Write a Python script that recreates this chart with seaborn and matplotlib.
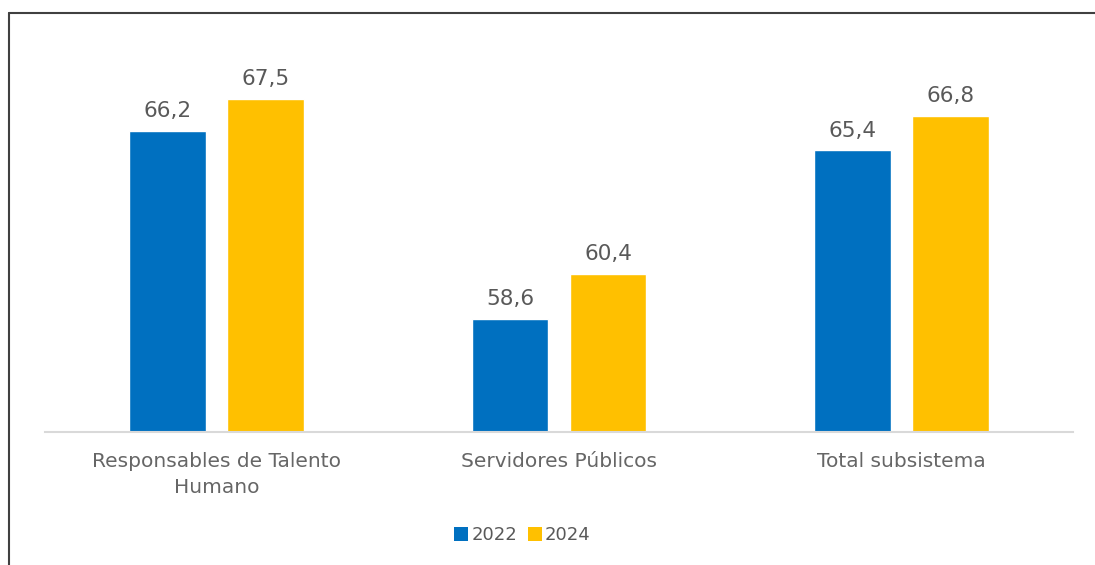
import matplotlib
matplotlib.use("Agg")
import matplotlib.pyplot as plt
from matplotlib.lines import Line2D
from matplotlib.patches import Patch
import seaborn as sns
import pandas as pd

categories = ["Responsables de Talento\nHumano", "Servidores Públicos", "Total subsistema"]
years = ["2022", "2024"]
values_2022 = [66.2, 58.6, 65.4]
values_2024 = [67.5, 60.4, 66.8]
colors = ["#0070C0", "#FFC000"]

df = pd.DataFrame({
    "categoria": categories * 2,
    "anio": [years[0]] * 3 + [years[1]] * 3,
    "valor": values_2022 + values_2024,
})

sns.set_theme(style="white")
plt.rcParams["font.family"] = ["DejaVu Sans"]

fig = plt.figure(figsize=(10.95, 5.65), dpi=100)
ax = fig.add_axes([0.041, 0.235, 0.939, 0.70])

sns.barplot(data=df, x="categoria", y="valor", hue="anio", hue_order=years,
            palette=colors, width=0.572, gap=0.217, ax=ax, legend=False,
            saturation=1, errorbar=None)

ax.set_ylim(54, 70)
ax.set_xlim(-0.5, 2.5)
for c in ax.containers:
    ax.bar_label(c, labels=[f"{v:.1f}".replace(".", ",") for v in c.datavalues],
                 padding=7, fontsize=15.5, color="#595959")

ax.set_xlabel("")
ax.set_ylabel("")
ax.set_yticks([])
ax.tick_params(axis="x", length=0, labelsize=14.5, labelcolor="#666666", pad=14)
for lbl in ax.get_xticklabels():
    lbl.set_linespacing(1.5)
for s in ["top", "right", "left"]:
    ax.spines[s].set_visible(False)
ax.spines["bottom"].set_color("#D9D9D9")
ax.spines["bottom"].set_linewidth(1.5)

handles = [Patch(facecolor=c, edgecolor="none") for c in colors]
fig.legend(handles, years, loc="center", bbox_to_anchor=(0.477, 0.053), ncol=2,
           frameon=False, fontsize=13, labelcolor="#595959",
           handlelength=0.8, handleheight=0.8, handletextpad=0.15, columnspacing=0.6)

# outer frame: top and left edges
fig.add_artist(Line2D([0.008, 1.0], [0.977, 0.977], color="#404040", lw=1.5,
                      transform=fig.transFigure))
fig.add_artist(Line2D([0.008, 0.008], [0.0, 0.977], color="#404040", lw=1.5,
                      transform=fig.transFigure))

fig.savefig("out.png", dpi=100)
